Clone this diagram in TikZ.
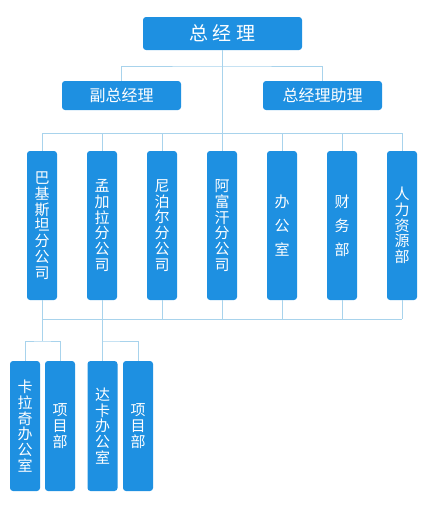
\documentclass[tikz,border=0pt]{standalone}
\usepackage{fontspec}
\newfontfamily\cjk{Noto Sans CJK SC}
\definecolor{boxblue}{HTML}{1E90E1}
\definecolor{linkblue}{HTML}{A8D3EC}

\begin{document}
\begin{tikzpicture}[x=1pt,y=-1pt,
  box/.style={fill=boxblue,text=white,rounded corners=3pt,inner sep=0pt,align=center},
  topbox/.style={box,minimum width=159pt,minimum height=33pt,font=\cjk\fontsize{19}{20}\selectfont},
  midbox/.style={box,minimum width=119pt,minimum height=29pt,font=\cjk\fontsize{16}{18}\selectfont},
  colbox/.style={box,minimum width=30pt,minimum height=149pt,font=\cjk\fontsize{15}{15.8}\selectfont},
  widecol/.style={colbox,font=\cjk\fontsize{15}{24}\selectfont},
  subbox/.style={box,minimum width=30pt,minimum height=130pt,font=\cjk\fontsize{15}{15.8}\selectfont},
  link/.style={draw=linkblue,line width=1pt}]
\useasboundingbox (0,0) rectangle (437,506);
\node[topbox] (gm) at (222.5,33.5) {总\hspace{5pt}经\hspace{5pt}理};
\node[midbox] (vgm) at (121.5,95.5) {副总经理};
\node[midbox] (asst) at (322.5,95.5) {总经理助理};
\node[colbox] (pk) at (42,225.5) {巴\\基\\斯\\坦\\分\\公\\司};
\node[colbox] (bd) at (102,225.5) {孟\\加\\拉\\分\\公\\司};
\node[colbox] (np) at (162,225.5) {尼\\泊\\尔\\分\\公\\司};
\node[colbox] (af) at (222,225.5) {阿\\富\\汗\\分\\公\\司};
\node[widecol] (office) at (282,225.5) {办\\公\\室};
\node[widecol] (fin) at (342,225.5) {财\\务\\部};
\node[colbox] (hr) at (402,225.5) {人\\力\\资\\源\\部};
\node[subbox] (kr) at (25,426) {卡\\拉\\奇\\办\\公\\室};
\node[subbox] (proj1) at (60,426) {项\\目\\部};
\node[subbox] (dk) at (102.5,426) {达\\卡\\办\\公\\室};
\node[subbox] (proj2) at (138,426) {项\\目\\部};
\coordinate (j1) at (222,66);
\coordinate (j2) at (222,133);
\coordinate (j3) at (222,319);
\coordinate (j4) at (222,341);
% connectors
\draw[link] (gm.south -| j1) -- (af.north);
\draw[link] (vgm.north) |- (j1) -| (asst.north);
\draw[link] (pk.north |- j2) -- (hr.north |- j2);
\foreach \n in {pk,bd,np,af,office,fin,hr}
  \draw[link] (\n.north) -- (\n.north |- j2);
\draw[link] (pk.south |- j3) -- (hr.south |- j3);
\foreach \n in {np,af,office,fin,hr}
  \draw[link] (\n.south) -- (\n.south |- j3);
\draw[link] (pk.south) -- (pk.south |- j4);
\draw[link] (bd.south) -- (bd.south |- j4);
\draw[link] (kr.north) |- (pk.south |- j4) -| (proj1.north);
\draw[link] (dk.north) |- (bd.south |- j4) -| (proj2.north);
\end{tikzpicture}
\end{document}
